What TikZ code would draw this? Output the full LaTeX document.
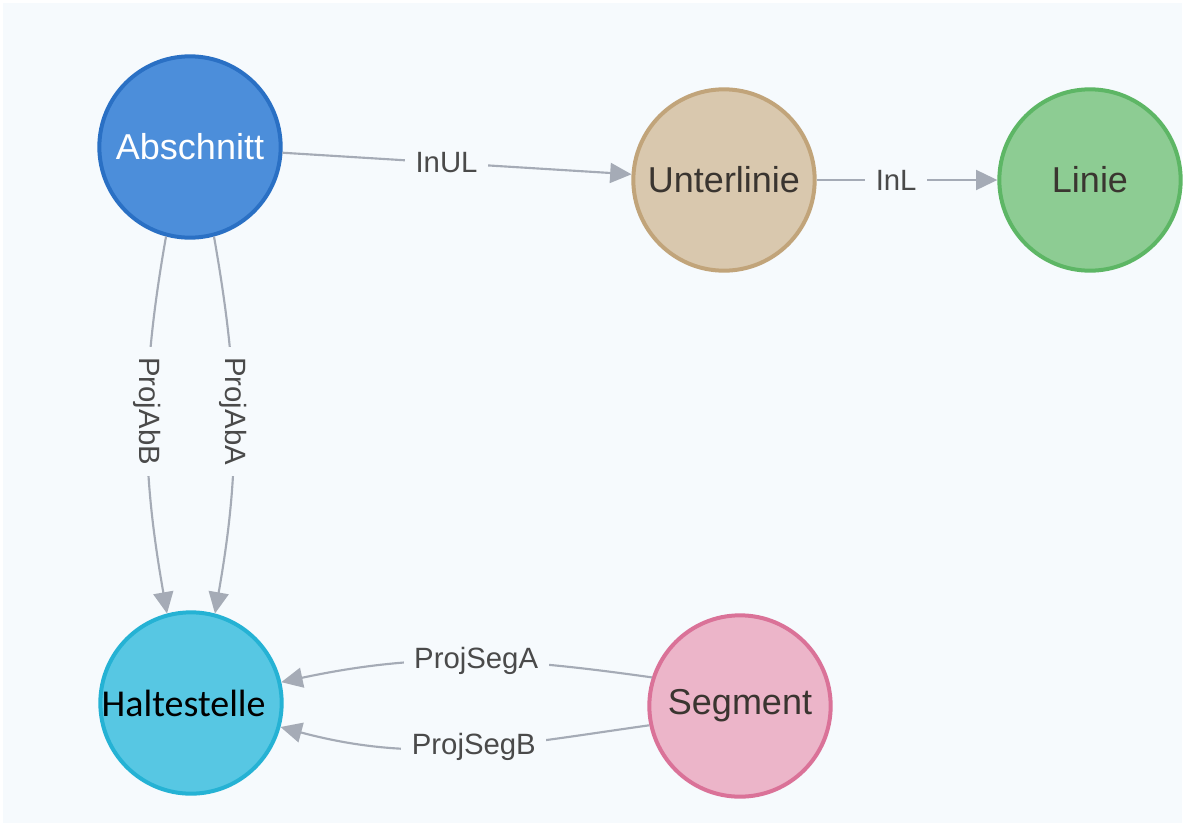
\documentclass[tikz,border=0pt]{standalone}
\usepackage{fontspec}
\setmainfont{Liberation Sans}
\newfontfamily\calibrifont{Carlito}
\usetikzlibrary{arrows.meta}
\definecolor{cbg}{HTML}{F6FAFD}
\definecolor{cedge}{HTML}{A5ABB6}
\definecolor{clabel}{HTML}{4A4A4A}
\definecolor{ctext}{HTML}{3A3530}
\definecolor{cabfill}{HTML}{4C8EDA}
\definecolor{cabline}{HTML}{2A70C4}
\definecolor{culfill}{HTML}{D9C8AE}
\definecolor{culline}{HTML}{C1A47A}
\definecolor{clifill}{HTML}{8DCC93}
\definecolor{cliline}{HTML}{5DB665}
\definecolor{chsfill}{HTML}{57C7E3}
\definecolor{chsline}{HTML}{25B2D4}
\definecolor{csgfill}{HTML}{ECB5C9}
\definecolor{csgline}{HTML}{DA7298}

\tikzset{
  entity/.style={circle, draw, line width=3pt, minimum size=136pt, inner sep=0pt,
    font=\fontsize{27}{32}\selectfont, text=ctext},
  rel/.style={draw=cedge, line width=1.6pt, -{Triangle[length=16pt,width=15pt]}},
  rellabel/.style={fill=cbg, text=clabel, inner xsep=8pt, inner ysep=1pt,
    font=\fontsize{22}{26}\selectfont}
}

\begin{document}
\begin{tikzpicture}[x=0.75pt, y=0.75pt]
\useasboundingbox (0,0) rectangle (1185,-826);
\fill[cbg] (3,-3) rectangle (1182,-823);
%% the five entities
\node[entity, fill=cabfill, draw=cabline, text=white] (ab) at (190,-147) {Abschnitt};
\node[entity, fill=culfill, draw=culline] (ul) at (724,-180) {Unterlinie};
\node[entity, fill=clifill, draw=cliline] (li) at (1090,-180) {Linie};
\node[entity, fill=chsfill, draw=chsline, text=black,
  font=\calibrifont\fontsize{28.5}{33}\selectfont] (hs) at (191,-703) {Haltestelle\hspace*{11pt}};
\node[entity, fill=csgfill, draw=csgline] (sg) at (740,-706) {Segment};
%% the relations
\draw[rel] (ab) -- node[rellabel, pos=0.47] {InUL} (ul);
\draw[rel] (ul) -- node[rellabel, pos=0.44] {InL} (li);
\draw[rel] (ab.-105) to[out=-100, in=100] node[rellabel, rotate=-90, pos=0.46] {ProjAbB} (hs.105);
\draw[rel] (ab.-75) to[out=-80, in=80] node[rellabel, rotate=-90, pos=0.46] {ProjAbA} (hs.75);
\draw[rel] (sg.162) to[out=172, in=12] node[rellabel, pos=0.47] {ProjSegA} (hs.13);
\draw[rel] (sg.192) to[out=188, in=-15] node[rellabel, pos=0.47] {ProjSegB} (hs.-15);
\end{tikzpicture}
\end{document}
